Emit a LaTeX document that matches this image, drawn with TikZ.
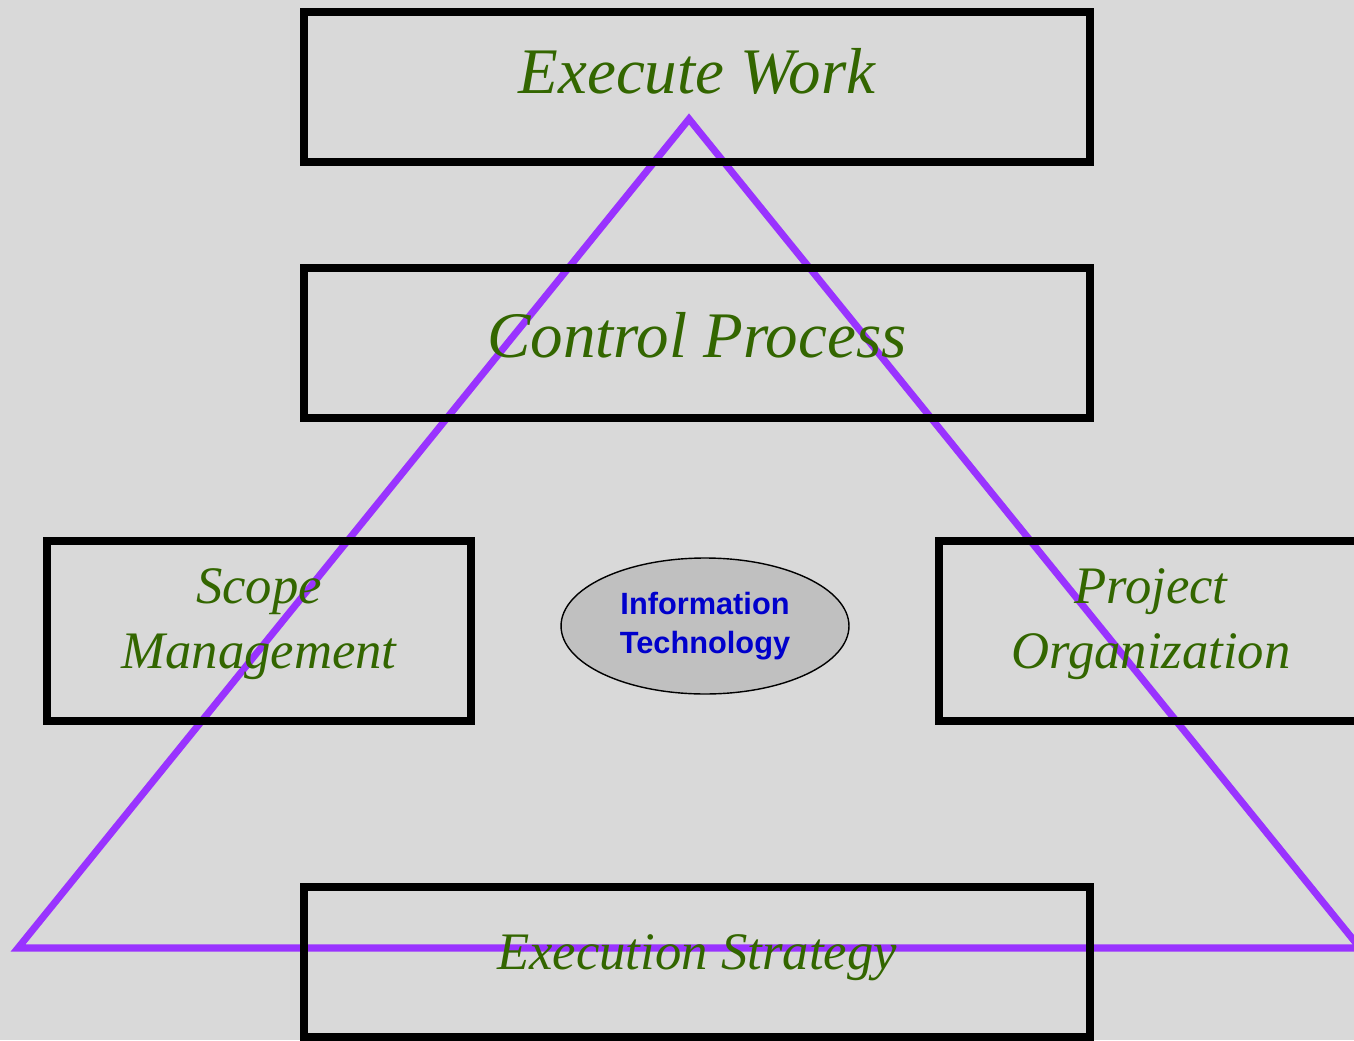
\documentclass[tikz,border=0pt]{standalone}
\usepackage{fontspec}
\setmainfont{Liberation Serif}
\setsansfont{Liberation Sans}
\usepackage{xcolor}
\usetikzlibrary{shapes,positioning}

\definecolor{pagegray}{HTML}{D9D9D9}
\definecolor{leafgreen}{HTML}{336600}
\definecolor{tripurple}{HTML}{9933FF}
\definecolor{itblue}{HTML}{0000CC}
\definecolor{hubgray}{HTML}{C0C0C0}

\begin{document}
\begin{tikzpicture}[x=0.02cm, y=-0.02cm, node distance=1.96cm,
    wide/.style={rectangle, draw, line width=4.5pt, minimum width=15.72cm, minimum height=3cm, text depth=18pt, align=center, text=leafgreen, font=\itshape\fontsize{37}{44}\selectfont},
    side/.style={rectangle, draw, line width=4.5pt, minimum width=8.48cm, minimum height=3.6cm, text depth=14pt, align=center, text=leafgreen, font=\itshape\fontsize{30}{37}\selectfont},
    hub/.style={ellipse, draw, line width=0.8pt, fill=hubgray, minimum width=5.76cm, minimum height=2.72cm, inner sep=0pt, align=center, text=itblue, font=\sffamily\bfseries\fontsize{17.5}{22.5}\selectfont},
    tri/.style={draw=tripurple, line width=4pt, line join=miter}]

    \fill[pagegray] (0,0) rectangle (1354,1040);
    \useasboundingbox (0,0) rectangle (1354,1040);

    % triangle behind the boxes
    \coordinate (apex) at (689,119);
    \coordinate (baseL) at (18,948);
    \coordinate (baseR) at (1360,948);
    \draw[tri] (apex) -- (baseL) -- (baseR) -- cycle;

    \node[wide] (work) at (697,87) {Execute Work};
    \node[wide, text depth=9pt, below=of work] (control) {Control Process};
    \node[side] (scope) at (259,631) {Scope\\Management};
    \node[side] (org) at (1151,631) {Project\\Organization};
    \node[wide, text depth=11pt, font=\itshape\fontsize{30}{37}\selectfont] (strategy) at (697,962) {Execution Strategy};

    \node[hub] (it) at (705,626) {Information\\Technology};

\end{tikzpicture}
\end{document}
